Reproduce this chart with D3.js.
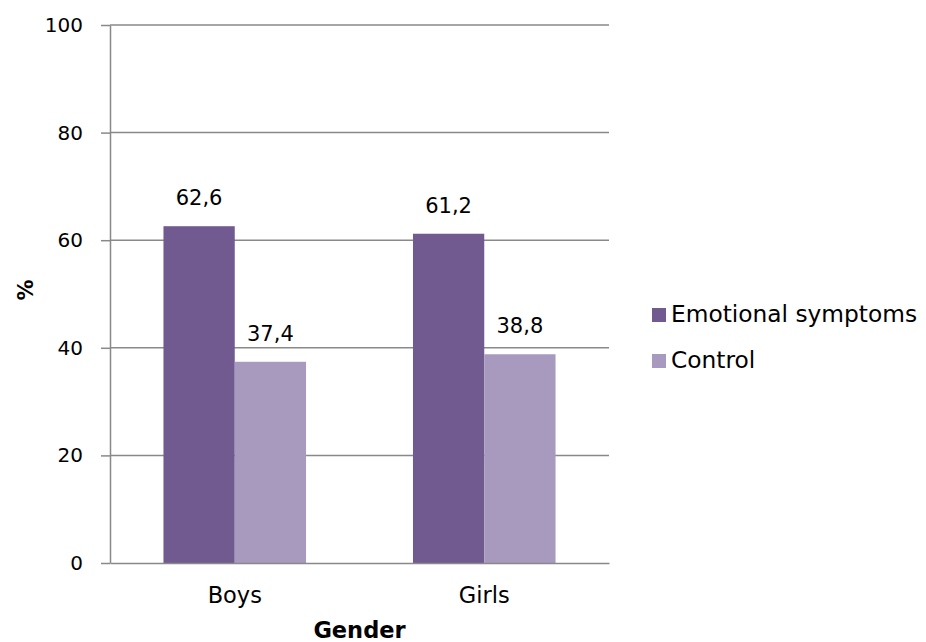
<!DOCTYPE html>
<html>
<head>
<meta charset="utf-8">
<script src="https://cdn.jsdelivr.net/npm/d3@7"></script>
<style>
  html, body { margin: 0; padding: 0; background: #fff; }
  svg text { font-family: "DejaVu Sans", Verdana, sans-serif; fill: #000; }
</style>
</head>
<body>
<svg id="chart" width="926" height="642"></svg>
<script>
// Share of children (%) by gender
const categories = ["Boys", "Girls"];
const seriesNames = ["Emotional symptoms", "Control"];
const emotional = [62.6, 61.2];
const control = [37.4, 38.8];
const yTicks = [0, 20, 40, 60, 80, 100];
const colors = ["#715A8F", "#A899BF"];

const values = [emotional, control];
const svg = d3.select("#chart");

const margin = { left: 110, right: 317, top: 25, bottom: 79 };
const W = 926, H = 642;
const x0 = margin.left, x1 = W - margin.right;
const yTop = margin.top, yBot = H - margin.bottom;

const x = d3.scaleBand().domain(categories).range([x0, x1]).paddingInner(0).paddingOuter(0);
// 150% gap: each category holds 2 bars plus 1.5 bar widths of space
const barW = x.bandwidth() / 3.5;
const y = d3.scaleLinear().domain([0, 100]).range([yBot, yTop]);

const fmt = v => String(v).replace(".", ",");
const gridColor = "#898989";

// gridlines
svg.append("g").selectAll("line").data(yTicks.filter(t => t > 0)).join("line")
  .attr("x1", x0).attr("x2", x1)
  .attr("y1", d => y(d)).attr("y2", d => y(d))
  .attr("stroke", gridColor).attr("stroke-width", 1.5);

// bars and value labels
const groups = svg.append("g").selectAll("g").data(categories).join("g");
seriesNames.forEach((name, s) => {
  const bx = (d) => x(d) + x.bandwidth() / 2 - barW + s * barW;
  groups.append("rect")
    .attr("x", d => bx(d))
    .attr("y", (d, i) => y(values[s][i]))
    .attr("width", barW)
    .attr("height", (d, i) => yBot - y(values[s][i]))
    .attr("fill", colors[s]);
  groups.append("text")
    .attr("x", d => bx(d) + barW / 2)
    .attr("y", (d, i) => y(values[s][i]) - 21)
    .attr("text-anchor", "middle")
    .attr("font-size", 21)
    .text((d, i) => fmt(values[s][i]));
});

// y axis
const yAxis = d3.axisLeft(y).tickValues(yTicks).tickSize(9).tickSizeOuter(0).tickPadding(18);
const gy = svg.append("g").attr("transform", `translate(${x0},0)`).call(yAxis);
gy.select(".domain").attr("stroke", gridColor).attr("stroke-width", 1.5);
gy.selectAll(".tick line").attr("stroke", gridColor).attr("stroke-width", 1.5);
gy.selectAll(".tick text").attr("font-size", 20).attr("font-family", "DejaVu Sans").attr("fill", "#000");

// x axis
const xAxis = d3.axisBottom(x).tickSize(0).tickPadding(24);
const gx = svg.append("g").attr("transform", `translate(0,${yBot})`).call(xAxis);
gx.select(".domain").attr("stroke", gridColor).attr("stroke-width", 1.5);
gx.selectAll(".tick text").attr("font-size", 22.5).attr("font-family", "DejaVu Sans").attr("fill", "#000");

// axis titles
svg.append("text")
  .attr("x", (x0 + x1) / 2).attr("y", 638)
  .attr("text-anchor", "middle").attr("font-size", 22.5).attr("font-weight", "bold")
  .text("Gender");
svg.append("text")
  .attr("transform", `translate(33,${(yTop + yBot) / 2 - 4}) rotate(-90)`)
  .attr("text-anchor", "middle").attr("font-size", 21).attr("font-weight", "bold")
  .text("%");

// legend
const legend = svg.append("g").attr("transform", "translate(652,308)");
seriesNames.forEach((name, s) => {
  const g = legend.append("g").attr("transform", `translate(0,${s * 46})`);
  g.append("rect").attr("width", 14).attr("height", 14).attr("fill", colors[s]);
  g.append("text").attr("x", 19).attr("y", 14).attr("font-size", 23.3).text(name);
});
</script>
</body>
</html>
